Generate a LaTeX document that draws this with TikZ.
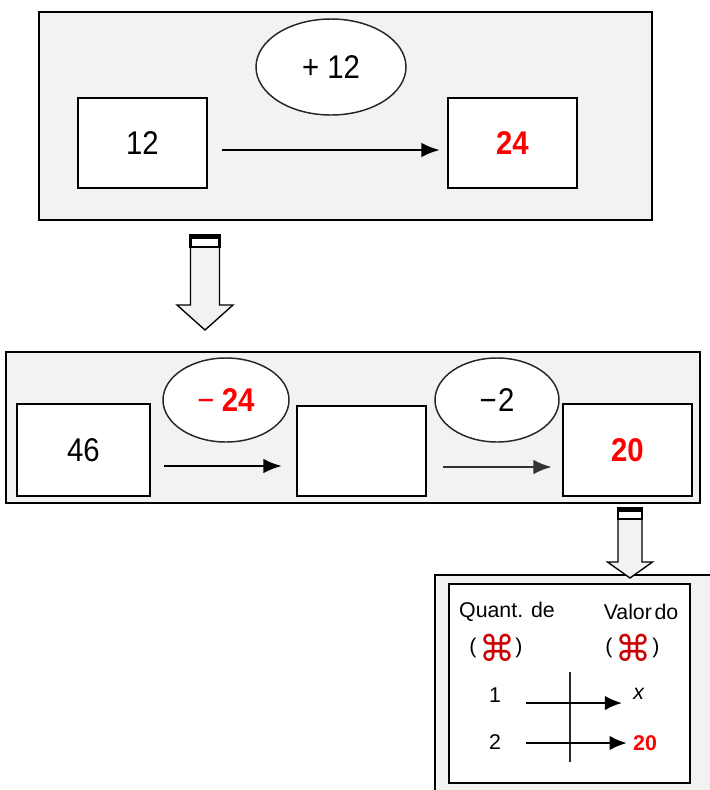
\documentclass[tikz,border=0pt]{standalone}
\usepackage{fontspec}
\setmainfont{Liberation Sans}
\newfontfamily\djfont{DejaVu Sans}
\usetikzlibrary{shapes.geometric,arrows.meta,calc}
\definecolor{framegray}{RGB}{242,242,242}
\newcommand{\tallt}[1]{\scalebox{1}[1.12]{#1}}
\tikzset{
  frame/.style={draw=black,line width=1.6pt,fill=framegray},
  numbox/.style={draw=black,line width=1.5pt,fill=white,rectangle,inner sep=0pt,font=\fontsize{22}{24}\selectfont},
  opellipse/.style={draw=black!85,line width=1.1pt,fill=white,ellipse,inner sep=0pt,font=\fontsize{22}{24}\selectfont},
  arr/.style={line width=2pt,-{Latex[length=14pt,width=11pt]}},
  smallarr/.style={line width=1.8pt,-{Latex[length=13pt,width=11pt]}},
  blockarrow/.style={draw=black,line width=1pt,fill=framegray},
  blockcap/.style={draw=black,line width=1.8pt,fill=white},
  small/.style={font=\fontsize{16}{18}\selectfont,inner sep=0pt},
  cmd/.style={font=\djfont\fontsize{27}{29}\selectfont,text=red!80!black,inner sep=0pt},
}
\begin{document}
\begin{tikzpicture}[x=0.75pt,y=-0.75pt]
\useasboundingbox (0,0) rectangle (710,790);
% ---------- top frame ----------
\node[frame,rectangle,minimum width=613*0.75pt,minimum height=208*0.75pt,inner sep=0pt] (top) at (345.5,116) {};
\node[numbox,minimum width=129*0.75pt,minimum height=90*0.75pt] (b12) at (142.5,143) {\tallt{12}};
\node[numbox,minimum width=129*0.75pt,minimum height=90*0.75pt] (b24) at (512.5,143) {\tallt{\textcolor{red}{\textbf{24}}}};
\node[opellipse,minimum width=150*0.75pt,minimum height=96*0.75pt] (e12) at (331,67) {\tallt{+ 12}};
\draw[arr] ($(b12.east)+(14,7)$) -- ($(b24.west)+(-7,7)$);
% ---------- block arrow 1 ----------
\coordinate (ba1) at (205,247);
\draw[blockarrow] ($(ba1)+(-14.5,0)$) -- ($(ba1)+(14.5,0)$) -- ($(ba1)+(14.5,58)$) -- ($(ba1)+(28,58)$) -- ($(ba1)+(0,83)$) -- ($(ba1)+(-28,58)$) -- ($(ba1)+(-14.5,58)$) -- cycle;
\draw[blockcap] ($(ba1)+(-14.5,-12)$) rectangle ($(ba1)+(14.5,0)$);
\fill[black] ($(ba1)+(-14.5,-12)$) rectangle ($(ba1)+(14.5,-8)$);
% ---------- middle frame ----------
\node[frame,rectangle,minimum width=694*0.75pt,minimum height=151*0.75pt,inner sep=0pt] (mid) at (353,427.5) {};
\node[numbox,minimum width=133*0.75pt,minimum height=92*0.75pt] (b46) at (83.5,450) {\tallt{46}};
\node[numbox,minimum width=129*0.75pt,minimum height=90*0.75pt] (bmid) at (361.5,451) {};
\node[numbox,minimum width=129*0.75pt,minimum height=92*0.75pt] (b20) at (627.5,450) {\tallt{\textcolor{red}{\textbf{20}}}};
\node[opellipse,minimum width=126*0.75pt,minimum height=84*0.75pt] (e24) at (226,400) {\tallt{\textcolor{red}{−}\hspace{0.25em}\textcolor{red}{\textbf{24}}}};
\node[opellipse,minimum width=124*0.75pt,minimum height=84*0.75pt] (e2) at (497,400) {\tallt{−\hspace{0.05em}2}};
\draw[arr] ($(b46.east)+(13,16)$) -- ($(bmid.west)+(-14,15)$);
\draw[arr,draw=black!80] ($(bmid.east)+(16,16)$) -- ($(b20.west)+(-10,17)$);
% ---------- bottom frame ----------
\node[frame,rectangle,minimum width=276*0.75pt,minimum height=220*0.75pt,inner sep=0pt,anchor=north west] (bot) at (433.5,574) {};
\node[draw=black,line width=1.6pt,fill=white,rectangle,minimum width=241*0.75pt,minimum height=199*0.75pt,inner sep=0pt,anchor=north west] (inner) at (448,583) {};
\node[small] (q1) at (507,612) {Quant. de};
\node[small] (q2) at (641,612) {Valor\hspace{0.12em}do};
\node[small] (lp1) at (473,648) {(};
\node[cmd] (c1) at (497,648) {⌘};
\node[small] (rp1) at (519,648) {)};
\node[small] (lp2) at (609,648) {(};
\node[cmd] (c2) at (633,648) {⌘};
\node[small] (rp2) at (656,648) {)};
\node[small] (n1) at (495,695) {1};
\node[small] (n2) at (495,742) {2};
\node[small] (vx) at (639,694) {\textit{x}};
\node[small] (v20) at (645,743) {\textcolor{red}{\textbf{20}}};
\coordinate (vt) at (570,672);
\coordinate (vb) at (570,762);
\draw[line width=1.4pt,draw=black!85] (vt) -- (vb);
\draw[smallarr] ($(n1.east)+(25,8)$) -- ($(vx.west)+(-11,9)$);
\draw[smallarr] ($(n2.east)+(25,1)$) -- ($(v20.west)+(-6,0)$);
% ---------- block arrow 2 ----------
\coordinate (ba2) at (630,519);
\draw[blockarrow] ($(ba2)+(-12,0)$) -- ($(ba2)+(12,0)$) -- ($(ba2)+(12,43)$) -- ($(ba2)+(22.5,43)$) -- ($(ba2)+(0,59)$) -- ($(ba2)+(-22.5,43)$) -- ($(ba2)+(-12,43)$) -- cycle;
\draw[blockcap] ($(ba2)+(-12,-11)$) rectangle ($(ba2)+(12,0)$);
\fill[black] ($(ba2)+(-12,-11)$) rectangle ($(ba2)+(12,-7)$);
\end{tikzpicture}
\end{document}
